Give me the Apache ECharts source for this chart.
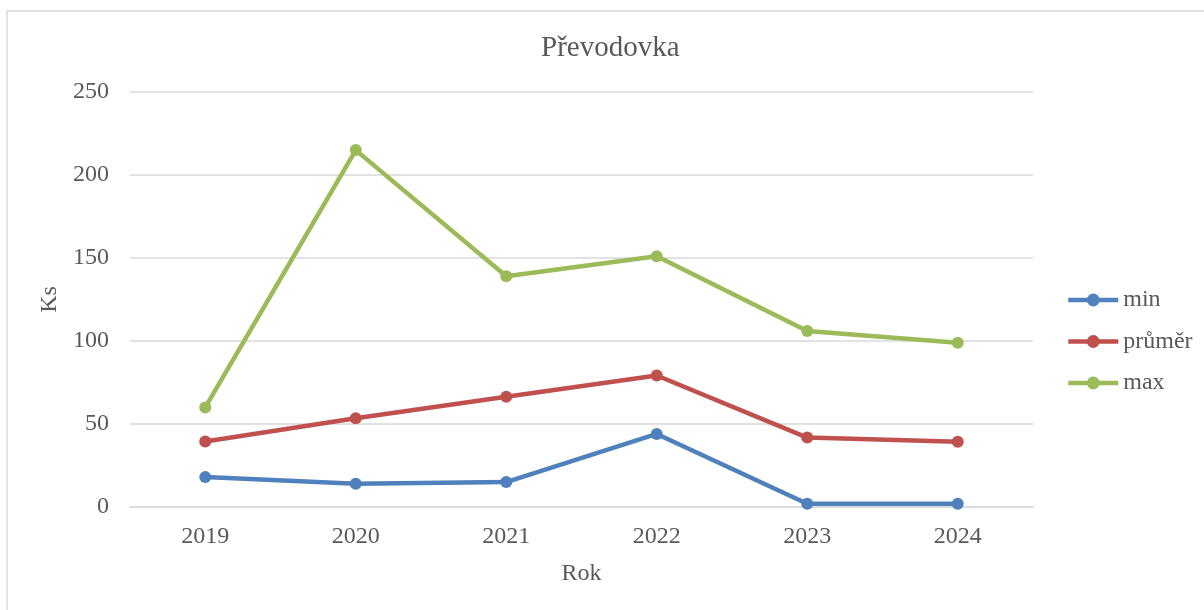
<!DOCTYPE html>
<html>
<head>
<meta charset="utf-8">
<title>Převodovka</title>
<script src="https://cdn.jsdelivr.net/npm/echarts@6/dist/echarts.min.js"></script>
<style>
  html, body { margin: 0; padding: 0; background: #ffffff; }
  #chart { width: 1204px; height: 610px; }
</style>
</head>
<body>
<div id="chart"></div>
<script>
// Roky a hodnoty jednotlivých řad
const years = ['2019', '2020', '2021', '2022', '2023', '2024'];
const minValues = [18, 14, 15, 44, 2, 2];
const avgValues = [39.5, 53.5, 66.4, 79.2, 41.8, 39.3];
const maxValues = [60, 215, 139, 151, 106, 99];
const yTicks = [0, 50, 100, 150, 200, 250];

const FONT = '"Liberation Serif", "Times New Roman", serif';
const TEXT = '#595959';
const GRID = '#d9d9d9';

function lineSeries(name, data, color) {
  return {
    name: name,
    type: 'line',
    data: data,
    symbol: 'circle',
    symbolSize: 12,
    lineStyle: { width: 4.5, color: color },
    itemStyle: { color: color },
    z: 3
  };
}

const chart = echarts.init(document.getElementById('chart'), null, { renderer: 'canvas' });

chart.setOption({
  animation: false,
  backgroundColor: '#ffffff',
  textStyle: { fontFamily: FONT },
  graphic: [{
    type: 'rect',
    shape: { x: 7, y: 11, width: 1400, height: 800 },
    style: { fill: 'none', stroke: GRID, lineWidth: 1.5 },
    silent: true,
    z: 0
  }],
  title: {
    text: 'Převodovka',
    left: 541,
    top: 34,
    padding: 0,
    textStyle: { fontFamily: FONT, fontSize: 29, fontWeight: 'normal', color: TEXT }
  },
  legend: {
    orient: 'vertical',
    left: 1066,
    top: 288,
    padding: 0,
    itemWidth: 50,
    itemHeight: 16,
    itemGap: 17.5,
    lineStyle: { width: 4.5 },
    textStyle: { fontFamily: FONT, fontSize: 24, color: TEXT, padding: [0, 0, 0, 0] },
    data: ['min', 'průměr', 'max']
  },
  grid: { left: 130, right: 171, top: 92, bottom: 103, containLabel: false },
  xAxis: {
    type: 'category',
    data: years,
    boundaryGap: true,
    name: 'Rok',
    nameLocation: 'middle',
    nameGap: 55,
    nameTextStyle: { fontFamily: FONT, fontSize: 24, color: TEXT },
    axisLine: { show: true, lineStyle: { color: GRID, width: 1.5 } },
    axisTick: { show: false },
    axisLabel: { fontFamily: FONT, fontSize: 24, color: TEXT, margin: 18 },
    splitLine: { show: false }
  },
  yAxis: {
    type: 'value',
    min: yTicks[0],
    max: yTicks[yTicks.length - 1],
    interval: yTicks[1] - yTicks[0],
    name: 'Ks',
    nameLocation: 'middle',
    nameGap: 65,
    nameRotate: 90,
    nameTextStyle: { fontFamily: FONT, fontSize: 24, color: TEXT },
    axisLine: { show: false },
    axisTick: { show: false },
    axisLabel: { fontFamily: FONT, fontSize: 24, color: TEXT, margin: 21 },
    splitLine: { show: true, lineStyle: { color: GRID, width: 1.5 } }
  },
  series: [
    lineSeries('min', minValues, '#4f81bd'),
    lineSeries('průměr', avgValues, '#c0504d'),
    lineSeries('max', maxValues, '#9bbb59')
  ]
});
</script>
</body>
</html>
